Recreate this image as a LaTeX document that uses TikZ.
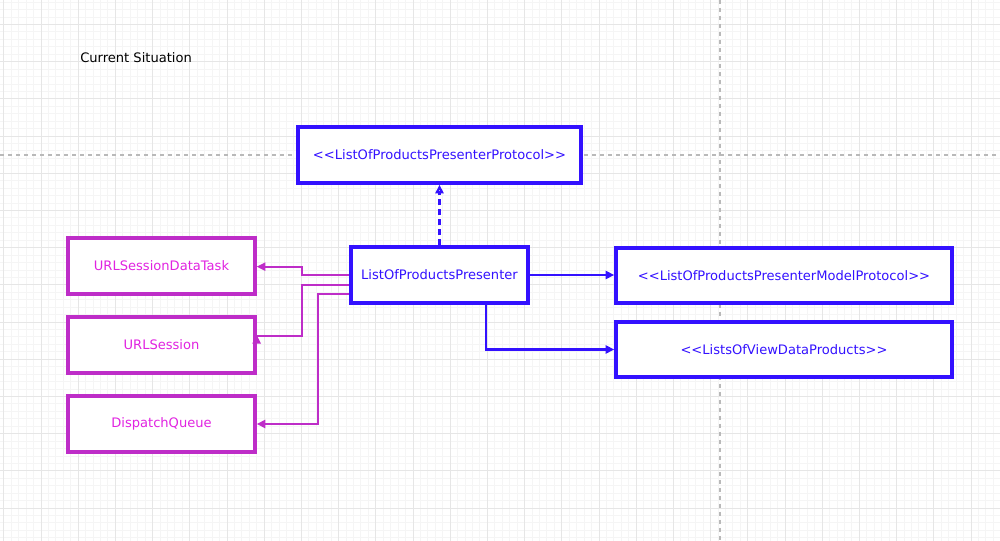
\documentclass[tikz,border=0pt]{standalone}
\usepackage{fontspec}
\setmainfont{DejaVu Sans}
\usetikzlibrary{arrows.meta,calc}
\definecolor{pblue}{RGB}{51,17,255}
\definecolor{pmag}{RGB}{190,45,200}
\definecolor{pmagtext}{RGB}{225,35,225}
\definecolor{gridmaj}{RGB}{230,230,230}
\definecolor{gridmin}{RGB}{245,245,245}
\definecolor{pagebrk}{RGB}{185,185,185}
\tikzset{
  bbox/.style={draw=pblue, line width=2.5pt, fill=white, text=pblue, font=\fontsize{9.8}{12}\selectfont, inner sep=0pt},
  mbox/.style={draw=pmag, line width=2.5pt, fill=white, text=pmagtext, font=\fontsize{9.8}{12}\selectfont, inner sep=0pt, minimum width=140.25pt, minimum height=42pt},
  barr/.style={draw=pblue, line width=1.6pt, -{Triangle[length=6.5pt,width=6pt]}},
  marr/.style={draw=pmag, line width=1.6pt, -{Triangle[length=6.5pt,width=6pt]}},
  darr/.style={draw=pblue, line width=1.6pt, dash pattern=on 4.5pt off 3pt, -{Triangle[open,length=6.5pt,width=6pt]}},
}
\begin{document}
\begin{tikzpicture}[x=0.75pt,y=-0.75pt]
\useasboundingbox (0,0) rectangle (1000,541);
\fill[white] (0,0) rectangle (1000,541);
% minor grid
\foreach \i in {0,...,134} \draw[gridmin, line width=0.75pt] ({3.8+7.44*\i},0) -- ({3.8+7.44*\i},541);
\foreach \i in {0,...,73} \draw[gridmin, line width=0.75pt] (0,{2.18+7.44*\i}) -- (1000,{2.18+7.44*\i});
% major grid
\foreach \i in {0,...,26} \draw[gridmaj, line width=0.75pt] ({3.8+37.2*\i},0) -- ({3.8+37.2*\i},541);
\foreach \i in {0,...,14} \draw[gridmaj, line width=0.75pt] (0,{24.5+37.2*\i}) -- (1000,{24.5+37.2*\i});
% page breaks
\draw[pagebrk, line width=0.8pt, dash pattern=on 3pt off 3pt] (720,0) -- (720,541);
\draw[pagebrk, line width=0.8pt, dash pattern=on 3pt off 3pt] (0,155) -- (1000,155);

\node[anchor=west, inner sep=0pt, font=\fontsize{9.8}{12}\selectfont] (title) at (80,58) {Current Situation};

\node[bbox, minimum width=212.25pt, minimum height=42pt] (proto) at (439.5,155) {<{}<ListOfProductsPresenterProtocol>{}>};
\node[bbox, minimum width=132.75pt, minimum height=42pt] (pres) at (439.5,275) {ListOfProductsPresenter};
\node[bbox, minimum width=252pt, minimum height=41.25pt] (model) at (784,275.5) {<{}<ListOfProductsPresenterModelProtocol>{}>};
\node[bbox, minimum width=252pt, minimum height=41.25pt] (lists) at (784,349.5) {<{}<ListsOfViewDataProducts>{}>};

\node[mbox] (task) at (161.5,266) {URLSessionDataTask};
\node[mbox] (sess) at (161.5,345) {URLSession};
\node[mbox] (dq) at (161.5,424) {DispatchQueue};

\draw[darr] (pres.north) -- (proto.south);
\draw[barr] (pres.east) -- (pres.east -| model.west);
\draw[barr] ([xshift=34.9pt]pres.south) |- (lists.west);

\draw[marr] (pres.west) -- ++(-47,0) |- ([yshift=-0.5pt]task.east);
\draw[marr] ([yshift=-7.5pt]pres.west) -- ++(-47,0) |- ([yshift=6.75pt]sess.east) -- ([yshift=7.6pt]sess.east);
\draw[marr] ([yshift=-14.25pt]pres.west) -- ++(-31,0) |- (dq.east);
\end{tikzpicture}
\end{document}
